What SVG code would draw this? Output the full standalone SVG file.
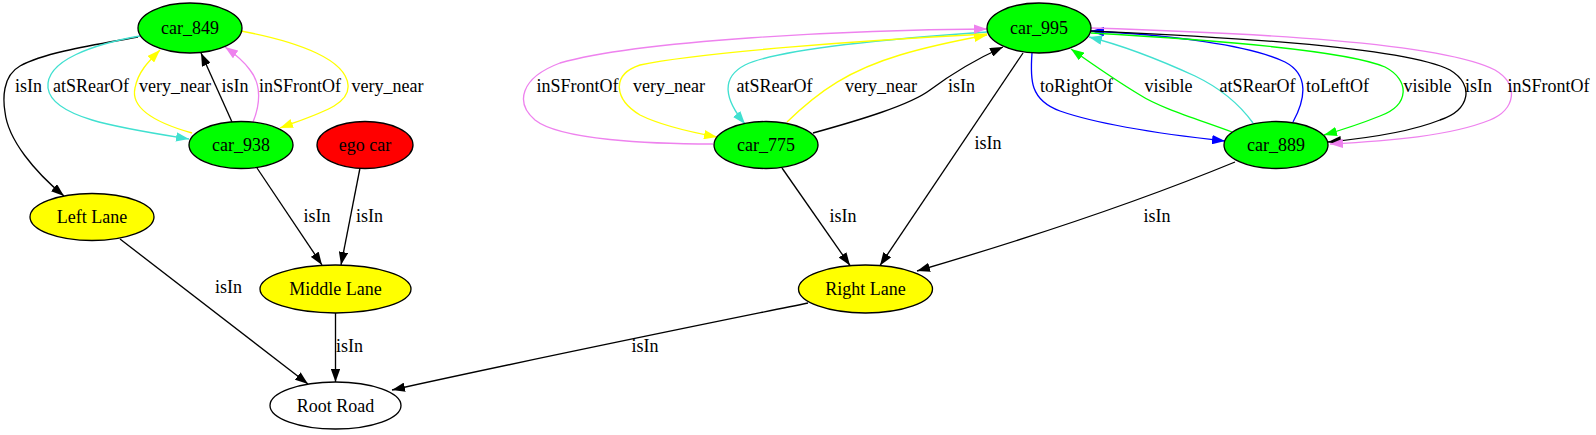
<svg xmlns="http://www.w3.org/2000/svg" width="1596" height="435" viewBox="0 0 1596 435">
<style>
text{font-family:"Liberation Serif","Times New Roman",serif;font-size:18px;fill:#000;text-anchor:middle}
.n{stroke:#000;stroke-width:1.33}
.e{fill:none;stroke-width:1.33}
.k{stroke:#000}.t{stroke:#40e0d0}.y{stroke:#ffff00}.v{stroke:#ee82ee}.b{stroke:#0000ff}.g{stroke:#00ff00}
</style>
<defs>
<marker id="ak" viewBox="0 0 13 9.4" markerWidth="13" markerHeight="9.4" refX="13" refY="4.7" orient="auto" markerUnits="userSpaceOnUse"><path d="M0,0L13,4.7L0,9.4z" fill="#000"/></marker>
<marker id="at" viewBox="0 0 13 9.4" markerWidth="13" markerHeight="9.4" refX="13" refY="4.7" orient="auto" markerUnits="userSpaceOnUse"><path d="M0,0L13,4.7L0,9.4z" fill="#40e0d0"/></marker>
<marker id="ay" viewBox="0 0 13 9.4" markerWidth="13" markerHeight="9.4" refX="13" refY="4.7" orient="auto" markerUnits="userSpaceOnUse"><path d="M0,0L13,4.7L0,9.4z" fill="#ffff00"/></marker>
<marker id="av" viewBox="0 0 13 9.4" markerWidth="13" markerHeight="9.4" refX="13" refY="4.7" orient="auto" markerUnits="userSpaceOnUse"><path d="M0,0L13,4.7L0,9.4z" fill="#ee82ee"/></marker>
<marker id="ab" viewBox="0 0 13 9.4" markerWidth="13" markerHeight="9.4" refX="13" refY="4.7" orient="auto" markerUnits="userSpaceOnUse"><path d="M0,0L13,4.7L0,9.4z" fill="#0000ff"/></marker>
<marker id="ag" viewBox="0 0 13 9.4" markerWidth="13" markerHeight="9.4" refX="13" refY="4.7" orient="auto" markerUnits="userSpaceOnUse"><path d="M0,0L13,4.7L0,9.4z" fill="#00ff00"/></marker>
</defs>
<rect width="1596" height="435" fill="#fff"/>
<g id="edges">
<!-- left cluster -->
<path class="e k" marker-end="url(#ak)" d="M138,37 C100,44 45,52 20,66 C2,76 3,100 5,112 C8,140 35,172 64,196"/>
<text x="28.5" y="92">isIn</text>
<path class="e t" marker-end="url(#at)" d="M140,36 C95,44 45,60 48,88 C52,118 120,128 189,139"/>
<text x="91" y="92">atSRearOf</text>
<path class="e y" marker-end="url(#ay)" d="M192,133 C160,124 130,110 135,88 C138,72 148,62 160,50"/>
<text x="175" y="92">very_near</text>
<path class="e k" marker-end="url(#ak)" d="M232,122 L201,53"/>
<text x="235" y="92">isIn</text>
<path class="e v" marker-end="url(#av)" d="M253,122 C260,105 262,85 250,70 C243,60 235,54 225,47"/>
<text x="300" y="92">inSFrontOf</text>
<path class="e y" marker-end="url(#ay)" d="M241,31 C300,42 346,60 348,85 C350,105 320,113 280,128"/>
<text x="387.5" y="92">very_near</text>
<path class="e k" marker-end="url(#ak)" d="M257,168 L322,265"/>
<text x="317" y="222">isIn</text>
<path class="e k" marker-end="url(#ak)" d="M360,168 L341,265"/>
<text x="369.5" y="222">isIn</text>
<path class="e k" marker-end="url(#ak)" d="M120,239 L308,384"/>
<text x="228.5" y="293">isIn</text>
<path class="e k" marker-end="url(#ak)" d="M335.5,313 L335.5,382"/>
<text x="349.5" y="352">isIn</text>
<path class="e k" marker-end="url(#ak)" d="M808,303 C720,321 560,353 392,390"/>
<text x="645" y="352">isIn</text>
<!-- right cluster -->
<path class="e k" marker-end="url(#ak)" d="M813,133 C860,120 910,105 930,90 C950,75 970,62 1003,47"/>
<text x="961.5" y="92">isIn</text>
<path class="e y" marker-end="url(#ay)" d="M787,122 C820,90 850,70 900,55 C930,46 960,40 987,35"/>
<text x="881" y="92">very_near</text>
<path class="e t" marker-end="url(#at)" d="M987,32 C900,38 780,48 745,65 C720,78 725,100 745,124"/>
<text x="774.5" y="92">atSRearOf</text>
<path class="e y" marker-end="url(#ay)" d="M987,34 C870,40 700,52 640,65 C610,75 615,100 640,115 C660,125 690,132 717,137"/>
<text x="669" y="92">very_near</text>
<path class="e v" marker-end="url(#av)" d="M713,144 C650,144 560,140 535,120 C515,103 520,78 560,63 C640,40 850,30 987,29"/>
<text x="577.5" y="92">inSFrontOf</text>
<path class="e k" marker-end="url(#ak)" d="M782,168 L850,265.5"/>
<text x="843" y="222">isIn</text>
<path class="e k" marker-end="url(#ak)" d="M1023,53 L880,265.5"/>
<text x="988" y="149">isIn</text>
<path class="e k" marker-end="url(#ak)" d="M1235,162 C1150,197 1050,232 917,271"/>
<text x="1157" y="222">isIn</text>
<path class="e b" marker-end="url(#ab)" d="M1032,53 C1030,80 1030,100 1060,111 C1100,125 1170,135 1225,141"/>
<text x="1076.5" y="92">toRightOf</text>
<path class="e g" marker-end="url(#ag)" d="M1232,132 C1200,120 1160,108 1140,95 C1115,80 1095,66 1071,49"/>
<text x="1168.5" y="92">visible</text>
<path class="e t" marker-end="url(#at)" d="M1253,123 C1240,105 1220,88 1195,76 C1160,60 1125,46 1089,37"/>
<text x="1257.5" y="92">atSRearOf</text>
<path class="e b" marker-end="url(#ab)" d="M1293,122 C1305,100 1310,75 1285,62 C1250,45 1170,35 1091,31"/>
<text x="1337.5" y="92">toLeftOf</text>
<path class="e g" marker-end="url(#ag)" d="M1091,33 C1180,38 1340,48 1385,67 C1410,80 1410,105 1380,116 C1365,122 1345,129 1324,135"/>
<text x="1427.5" y="92">visible</text>
<path class="e k" marker-end="url(#ak)" d="M1091,31 C1200,36 1400,45 1450,70 C1475,85 1470,110 1440,120 C1410,132 1370,138 1328,142"/>
<text x="1478.5" y="92">isIn</text>
<path class="e v" marker-end="url(#av)" d="M1091,28 C1250,33 1440,42 1495,70 C1520,85 1515,110 1490,120 C1450,136 1390,141 1330,144"/>
<text x="1548.5" y="92">inSFrontOf</text>
</g>
<g id="car_849"><ellipse class="n" cx="190" cy="28" rx="52" ry="25" fill="#00ff00"/><text x="190" y="34">car_849</text></g>
<g id="car_938"><ellipse class="n" cx="241" cy="145" rx="52" ry="23.5" fill="#00ff00"/><text x="241" y="151">car_938</text></g>
<g id="ego_car"><ellipse class="n" cx="365" cy="145" rx="48" ry="23.5" fill="#ff0000"/><text x="365" y="151">ego car</text></g>
<g id="left_lane"><ellipse class="n" cx="92" cy="217" rx="62" ry="23.5" fill="#ffff00"/><text x="92" y="223">Left Lane</text></g>
<g id="middle_lane"><ellipse class="n" cx="335.5" cy="289" rx="75.5" ry="24" fill="#ffff00"/><text x="335.5" y="295">Middle Lane</text></g>
<g id="root_road"><ellipse class="n" cx="335.5" cy="405.5" rx="65.5" ry="23.5" fill="#ffffff"/><text x="335.5" y="411.5">Root Road</text></g>
<g id="car_995"><ellipse class="n" cx="1039" cy="28" rx="52" ry="25" fill="#00ff00"/><text x="1039" y="34">car_995</text></g>
<g id="car_775"><ellipse class="n" cx="766" cy="145" rx="52" ry="23.5" fill="#00ff00"/><text x="766" y="151">car_775</text></g>
<g id="car_889"><ellipse class="n" cx="1276" cy="145" rx="52" ry="23.5" fill="#00ff00"/><text x="1276" y="151">car_889</text></g>
<g id="right_lane"><ellipse class="n" cx="865.5" cy="289" rx="67" ry="24" fill="#ffff00"/><text x="865.5" y="295">Right Lane</text></g>
</svg>
